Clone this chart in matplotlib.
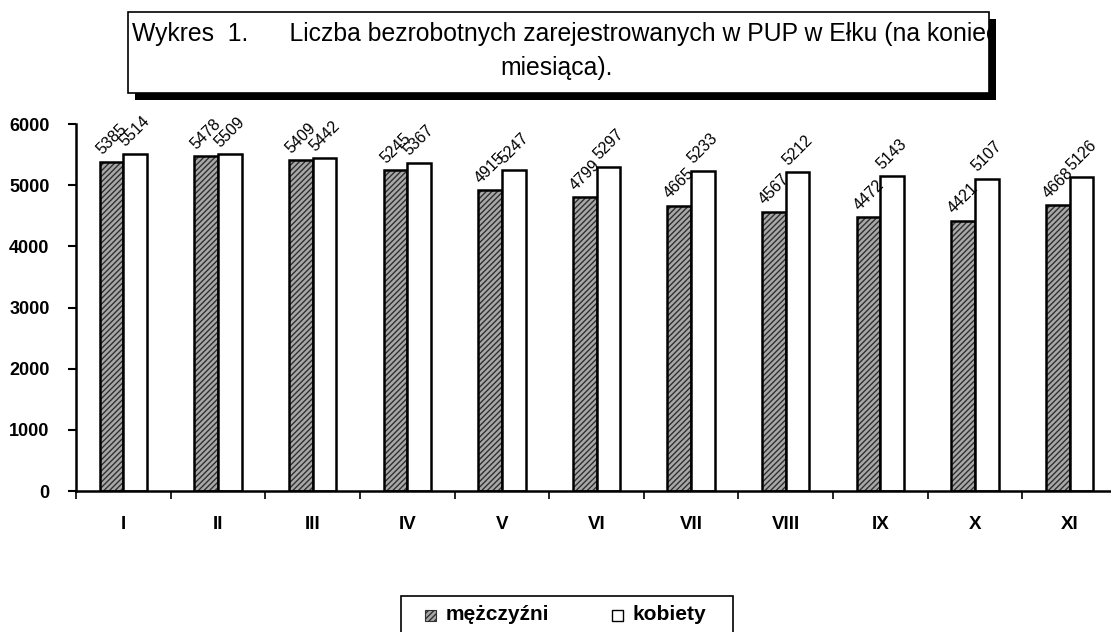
import matplotlib
matplotlib.use("Agg")
import matplotlib.pyplot as plt
from matplotlib.patches import Rectangle
import numpy as np

plt.rcParams['font.family'] = ['Liberation Sans', 'DejaVu Sans']
plt.rcParams['hatch.linewidth'] = 1.0

months = ["I", "II", "III", "IV", "V", "VI", "VII", "VIII", "IX", "X", "XI"]
men = [5385, 5478, 5409, 5245, 4915, 4799, 4665, 4567, 4472, 4421, 4668]
women = [5514, 5509, 5442, 5367, 5247, 5297, 5233, 5212, 5143, 5107, 5126]
series_names = ["mężczyźni", "kobiety"]
title_line1 = "Wykres  1.      Liczba bezrobotnych zarejestrowanych w PUP w Ełku (na koniec"
title_line2 = "miesiąca)."

W, H = 1111, 632
fig = plt.figure(figsize=(W / 100, H / 100), dpi=100)
ax = fig.add_axes([76 / W, 141 / H, (1117 - 76) / W, (491 - 124) / H])

x = np.arange(len(months))
bw = 0.25
ax.bar(x - bw / 2, men, bw, color='#a8a8a8', edgecolor='#303030', hatch='//////', linewidth=0, zorder=2)
ax.bar(x - bw / 2, men, bw, fill=False, edgecolor='black', linewidth=1.8, zorder=3)
ax.bar(x + bw / 2, women, bw, color='white', edgecolor='black', linewidth=1.8, zorder=3)

for xi, v in zip(x - bw / 2, men):
    ax.annotate(str(v), (xi, v), xytext=(0, 16), textcoords='offset points',
                rotation=45, ha='center', va='center', fontsize=11.5, rotation_mode='anchor', zorder=5)
for xi, v in zip(x + bw / 2, women):
    ax.annotate(str(v), (xi, v), xytext=(0, 16), textcoords='offset points',
                rotation=45, ha='center', va='center', fontsize=11.5, rotation_mode='anchor', zorder=5)

ax.set_xlim(-0.5, len(months) - 0.5)
ax.set_ylim(0, 6000)
ax.set_yticks(np.arange(0, 6001, 1000))
ax.set_xticks(x)
ax.set_xticklabels(months, fontsize=13.5, fontweight='bold')
ax.set_xticks(np.arange(-0.5, len(months), 1.0), minor=True)
ax.tick_params(axis='x', which='major', length=0, pad=18)
ax.tick_params(axis='x', which='minor', length=6, width=1.2, direction='out')
ax.tick_params(axis='y', length=6, width=1.5, pad=13)
for lab in ax.get_yticklabels():
    lab.set_fontweight('bold')
    lab.set_fontsize(13)
for s in ['top', 'right']:
    ax.spines[s].set_visible(False)
for s in ['left', 'bottom']:
    ax.spines[s].set_linewidth(1.8)
    ax.spines[s].set_color('black')
    ax.spines[s].set_zorder(4)

def fx(px):
    return px / W

def fy(py):
    return 1 - py / H

# title box with shadow
shadow = Rectangle((fx(135), fy(100)), fx(996) - fx(135), fy(19) - fy(100),
                   transform=fig.transFigure, facecolor='black', edgecolor='none')
box = Rectangle((fx(128), fy(93)), fx(989) - fx(128), fy(12) - fy(93),
                transform=fig.transFigure, facecolor='white', edgecolor='black', linewidth=1.2)
fig.patches.extend([shadow, box])
t1 = fig.text(fx(132), fy(34), title_line1, fontsize=17.8, ha='left', va='center')
t1.set_clip_path(box)
fig.text(fx(557), fy(68), title_line2, fontsize=17.8, ha='center', va='center')

# legend drawn manually
lbox = Rectangle((fx(401), fy(640)), fx(733) - fx(401), fy(596) - fy(640),
                 transform=fig.transFigure, facecolor='white', edgecolor='black', linewidth=1.2)
fig.patches.append(lbox)
sq_x = [425, 612]
tx_x = [446, 632]
styles = [dict(facecolor='#a8a8a8', edgecolor='#303030', hatch='//////', linewidth=0.8),
          dict(facecolor='white', edgecolor='black', linewidth=1.0)]
for name, sx, tx, st in zip(series_names, sq_x, tx_x, styles):
    fig.patches.append(Rectangle((fx(sx), fy(621)), fx(sx + 11) - fx(sx), fy(610) - fy(621),
                                 transform=fig.transFigure, **st))
    fig.text(fx(tx), fy(615), name, fontsize=15, fontweight='bold', ha='left', va='center')

fig.savefig('out.png', dpi=100)
